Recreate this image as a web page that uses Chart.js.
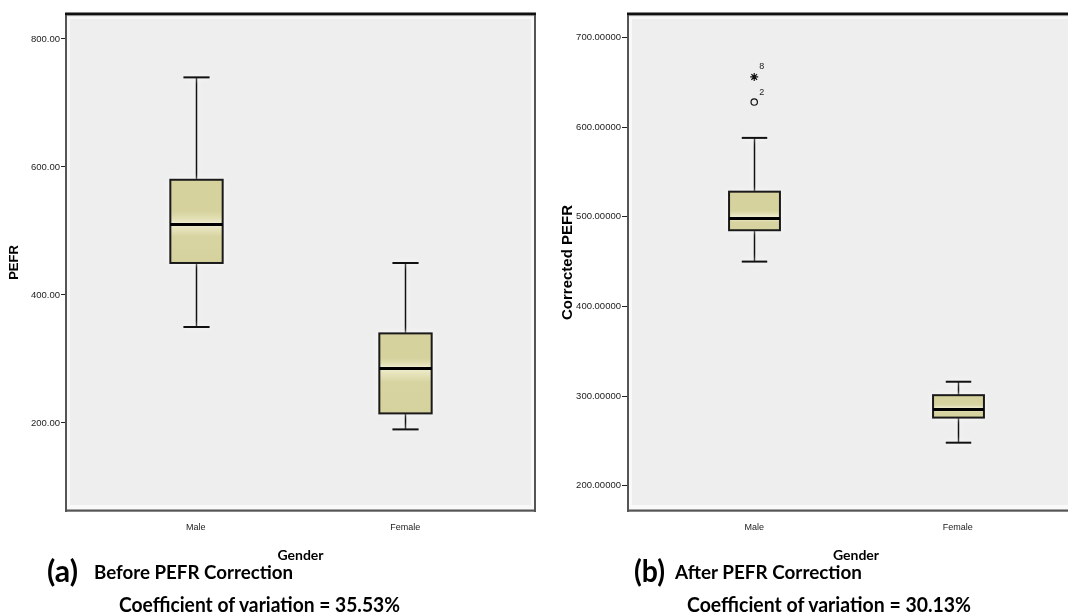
<!DOCTYPE html>
<html><head><meta charset="utf-8">
<script src="https://cdn.jsdelivr.net/npm/chart.js@4.4.1/dist/chart.umd.min.js"></script>
<style>
html,body{margin:0;padding:0;background:#fff;overflow:hidden;width:1068px;height:613px;position:relative;}
#wrapA{position:absolute;left:0;top:0;width:545px;height:613px;}
#wrapB{position:absolute;left:540px;top:0;width:554px;height:613px;}
.cap{position:absolute;white-space:nowrap;font-family:Lato,"Open Sans",sans-serif;font-weight:bold;color:#000;transform-origin:0 0;line-height:normal;}
</style></head><body>
<div id="wrapA"><canvas id="chartA" width="545" height="613"></canvas></div>
<div id="wrapB"><canvas id="chartB" width="554" height="613"></canvas></div>
<script>
// ---------- data ----------
const categories = ['Male', 'Female'];

// (a) Before PEFR correction
const beforeMin    = [350, 190];
const beforeQ1     = [450, 215];
const beforeMedian = [510, 285];
const beforeQ3     = [580, 340];
const beforeMax    = [740, 450];
const beforeTicks  = [200, 400, 600, 800];

// (b) After PEFR correction
const afterMin    = [450, 248];
const afterQ1     = [485, 276];
const afterMedian = [498, 285];
const afterQ3     = [528, 301];
const afterMax    = [588, 316];
const afterTicks  = [200, 300, 400, 500, 600, 700];
const afterOutlierCategory = [0, 0];
const afterOutlierValues   = [628, 656];
const afterOutlierIds      = ['2', '8'];
const afterOutlierStyles   = ['circle', 'star'];

// ---------- drawing helpers ----------
const TICK_FONT = '"Liberation Sans", Arial, sans-serif';

function makeBoxPlugin(stats, outlierIds) {
  return {
    id: 'spssBox',
    beforeDraw(chart) {
      const {ctx, chartArea: a} = chart;
      ctx.save();
      ctx.fillStyle = '#f9f9f9';
      ctx.fillRect(a.left, a.top, a.right - a.left, a.bottom - a.top);
      ctx.fillStyle = '#eeeeee';
      ctx.fillRect(a.left + 4, a.top + 5, a.right - a.left - 8, a.bottom - a.top - 11);
      ctx.restore();
    },
    afterDatasetsDraw(chart) {
      const ctx = chart.ctx, xs = chart.scales.x, ys = chart.scales.y;
      const unit = xs.getPixelForValue(1) - xs.getPixelForValue(0);
      const half = unit * 0.25 / 2, capHalf = unit * 0.125 / 2;
      const line = (x1, y1, x2, y2) => { ctx.beginPath(); ctx.moveTo(x1, y1); ctx.lineTo(x2, y2); ctx.stroke(); };
      stats.q1.forEach((_, i) => {
        const cx = Math.round(xs.getPixelForValue(i)) + 0.5;
        const yMin = ys.getPixelForValue(stats.min[i]);
        const yQ1 = ys.getPixelForValue(stats.q1[i]);
        const yMed = ys.getPixelForValue(stats.median[i]);
        const yQ3 = ys.getPixelForValue(stats.q3[i]);
        const yMax = ys.getPixelForValue(stats.max[i]);
        ctx.save();
        ctx.shadowColor = 'rgba(255,255,255,1)';
        ctx.shadowBlur = 6;
        ctx.strokeStyle = '#111';
        ctx.lineWidth = 1.5;
        line(cx, yMax, cx, yQ3);
        line(cx, yQ1, cx, yMin);
        ctx.lineWidth = 2;
        line(cx - capHalf, yMax, cx + capHalf, yMax);
        line(cx - capHalf, yMin, cx + capHalf, yMin);
        // box fill
        const gTop = ctx.createLinearGradient(0, yQ3, 0, yMed);
        gTop.addColorStop(0, '#d6d29e');
        gTop.addColorStop(0.7, '#d6d29e');
        gTop.addColorStop(1, '#eceac4');
        ctx.fillStyle = gTop;
        ctx.fillRect(cx - half, yQ3, half * 2, yMed - yQ3);
        const gBot = ctx.createLinearGradient(0, yMed, 0, yQ1);
        gBot.addColorStop(0, '#efedcc');
        gBot.addColorStop(0.3, '#d8d4a2');
        gBot.addColorStop(1, '#d6d29e');
        ctx.fillStyle = gBot;
        ctx.fillRect(cx - half, yMed, half * 2, yQ1 - yMed);
        ctx.shadowBlur = 0;
        ctx.lineWidth = 2;
        ctx.strokeStyle = '#1a1a1a';
        ctx.strokeRect(cx - half, yQ3, half * 2, yQ1 - yQ3);
        ctx.lineWidth = 3;
        ctx.strokeStyle = '#000';
        line(cx - half, yMed, cx + half, yMed);
        ctx.restore();
      });
      // outlier case labels
      if (outlierIds) {
        const meta = chart.getDatasetMeta(0);
        ctx.save();
        ctx.fillStyle = '#222';
        ctx.font = '9px ' + TICK_FONT;
        ctx.textAlign = 'left';
        ctx.textBaseline = 'middle';
        meta.data.forEach((pt, i) => {
          ctx.fillText(outlierIds[i], pt.x + 5, pt.y - 10);
        });
        ctx.restore();
      }
    },
    afterDraw(chart) {
      const {ctx, chartArea: a} = chart;
      ctx.save();
      ctx.fillStyle = '#555';
      ctx.fillRect(a.left - 1, a.top, 2, a.bottom - a.top + 1);
      ctx.fillRect(a.right - 1, a.top, 2, a.bottom - a.top + 1);
      ctx.fillRect(a.left - 1, a.bottom - 1.5, a.right - a.left + 2, 2.2);
      ctx.fillStyle = '#111';
      ctx.fillRect(a.left - 1, a.top - 1.5, a.right - a.left + 2, 2.6);
      ctx.fillStyle = '#8a8a8a';
      ctx.fillRect(a.left + 1, a.top + 1.1, a.right - a.left - 2, 1);
      ctx.restore();
    }
  };
}

function makeChart(canvasId, cfg) {
  return new Chart(document.getElementById(canvasId), {
    type: 'scatter',
    data: {
      datasets: [{
        data: cfg.points,
        pointStyle: cfg.pointStyles,
        pointRadius: [3.2, 4],
        borderColor: '#111',
        backgroundColor: 'rgba(0,0,0,0)',
        borderWidth: 1.2
      }]
    },
    options: {
      responsive: false,
      animation: false,
      events: [],
      layout: {padding: {top: 14, right: 10, left: 0, bottom: 0}},
      plugins: {legend: {display: false}, tooltip: {enabled: false}},
      scales: {
        x: {
          type: 'linear', position: 'bottom', min: -0.62, max: 1.62,
          afterBuildTicks(s) { s.ticks = categories.map((c, i) => ({value: i})); },
          afterFit(s) { s.height = 102; },
          ticks: {
            callback: v => categories[v], autoSkip: false, maxRotation: 0,
            font: {family: TICK_FONT, size: 9}, color: '#222', padding: 11
          },
          grid: {display: false, drawTicks: false},
          border: {display: false},
          title: {
            display: true, text: 'Gender', color: '#000',
            font: {family: 'Lato, "Open Sans", sans-serif', size: 14, weight: 'bold'},
            padding: {top: 0, bottom: 49}
          }
        },
        y: {
          type: 'linear', min: cfg.yMin, max: cfg.yMax,
          afterBuildTicks(s) { s.ticks = cfg.ticks.map(v => ({value: v})); },
          afterFit(s) { s.width = cfg.yWidth; },
          ticks: {
            callback: v => Number(v).toFixed(cfg.decimals),
            font: {family: TICK_FONT, size: 9.5}, color: '#222', padding: 1
          },
          grid: {drawOnChartArea: false, drawTicks: true, tickLength: cfg.tickLength, color: '#222', lineWidth: 1},
          border: {display: false},
          title: {
            display: true, text: cfg.yTitle, color: '#000',
            font: {family: TICK_FONT, size: cfg.yTitleSize, weight: 'bold'},
            padding: {top: cfg.yTitlePad, bottom: 0}
          }
        }
      }
    },
    plugins: [makeBoxPlugin(cfg.stats, cfg.outlierIds)]
  });
}

makeChart('chartA', {
  points: [], pointStyles: [],
  yMin: 62.5, yMax: 839, ticks: beforeTicks, decimals: 2, yWidth: 66, tickLength: 5,
  yTitle: 'PEFR', yTitleSize: 13, yTitlePad: 7,
  stats: {min: beforeMin, q1: beforeQ1, median: beforeMedian, q3: beforeQ3, max: beforeMax},
  outlierIds: null
});

makeChart('chartB', {
  points: afterOutlierValues.map((v, i) => ({x: afterOutlierCategory[i], y: v})),
  pointStyles: afterOutlierStyles,
  yMin: 171.8, yMax: 726.2, ticks: afterTicks, decimals: 5, yWidth: 88, tickLength: 6,
  yTitle: 'Corrected PEFR', yTitleSize: 15, yTitlePad: 19,
  stats: {min: afterMin, q1: afterQ1, median: afterMedian, q3: afterQ3, max: afterMax},
  outlierIds: afterOutlierIds
});

// ---------- captions ----------
const captions = [
  {text: '(a)', x: 47, baseline: 582, size: 30, width: 31},
  {text: 'Before PEFR Correction', x: 94, baseline: 579, size: 19, width: 199},
  {text: 'Coefficient of variation = 35.53%', x: 119, baseline: 612, size: 21, width: 281},
  {text: '(b)', x: 634, baseline: 582, size: 30, width: 31},
  {text: 'After PEFR Correction', x: 675, baseline: 579, size: 19, width: 187},
  {text: 'Coefficient of variation = 30.13%', x: 687, baseline: 612, size: 21, width: 284}
];
captions.forEach(c => {
  const d = document.createElement('div');
  d.className = 'cap';
  d.style.fontSize = c.size + 'px';
  d.style.left = '0px'; d.style.top = '0px';
  const s = document.createElement('span');
  s.textContent = c.text;
  const m = document.createElement('span');
  m.style.cssText = 'display:inline-block;width:0;height:0;';
  d.appendChild(s); d.appendChild(m);
  document.body.appendChild(d);
  const w = s.getBoundingClientRect().width;
  const base = m.getBoundingClientRect().top;
  d.style.left = c.x + 'px';
  d.style.top = (c.baseline - base) + 'px';
  d.style.transform = 'scaleX(' + (c.width / w).toFixed(4) + ')';
});
</script>
</body></html>
